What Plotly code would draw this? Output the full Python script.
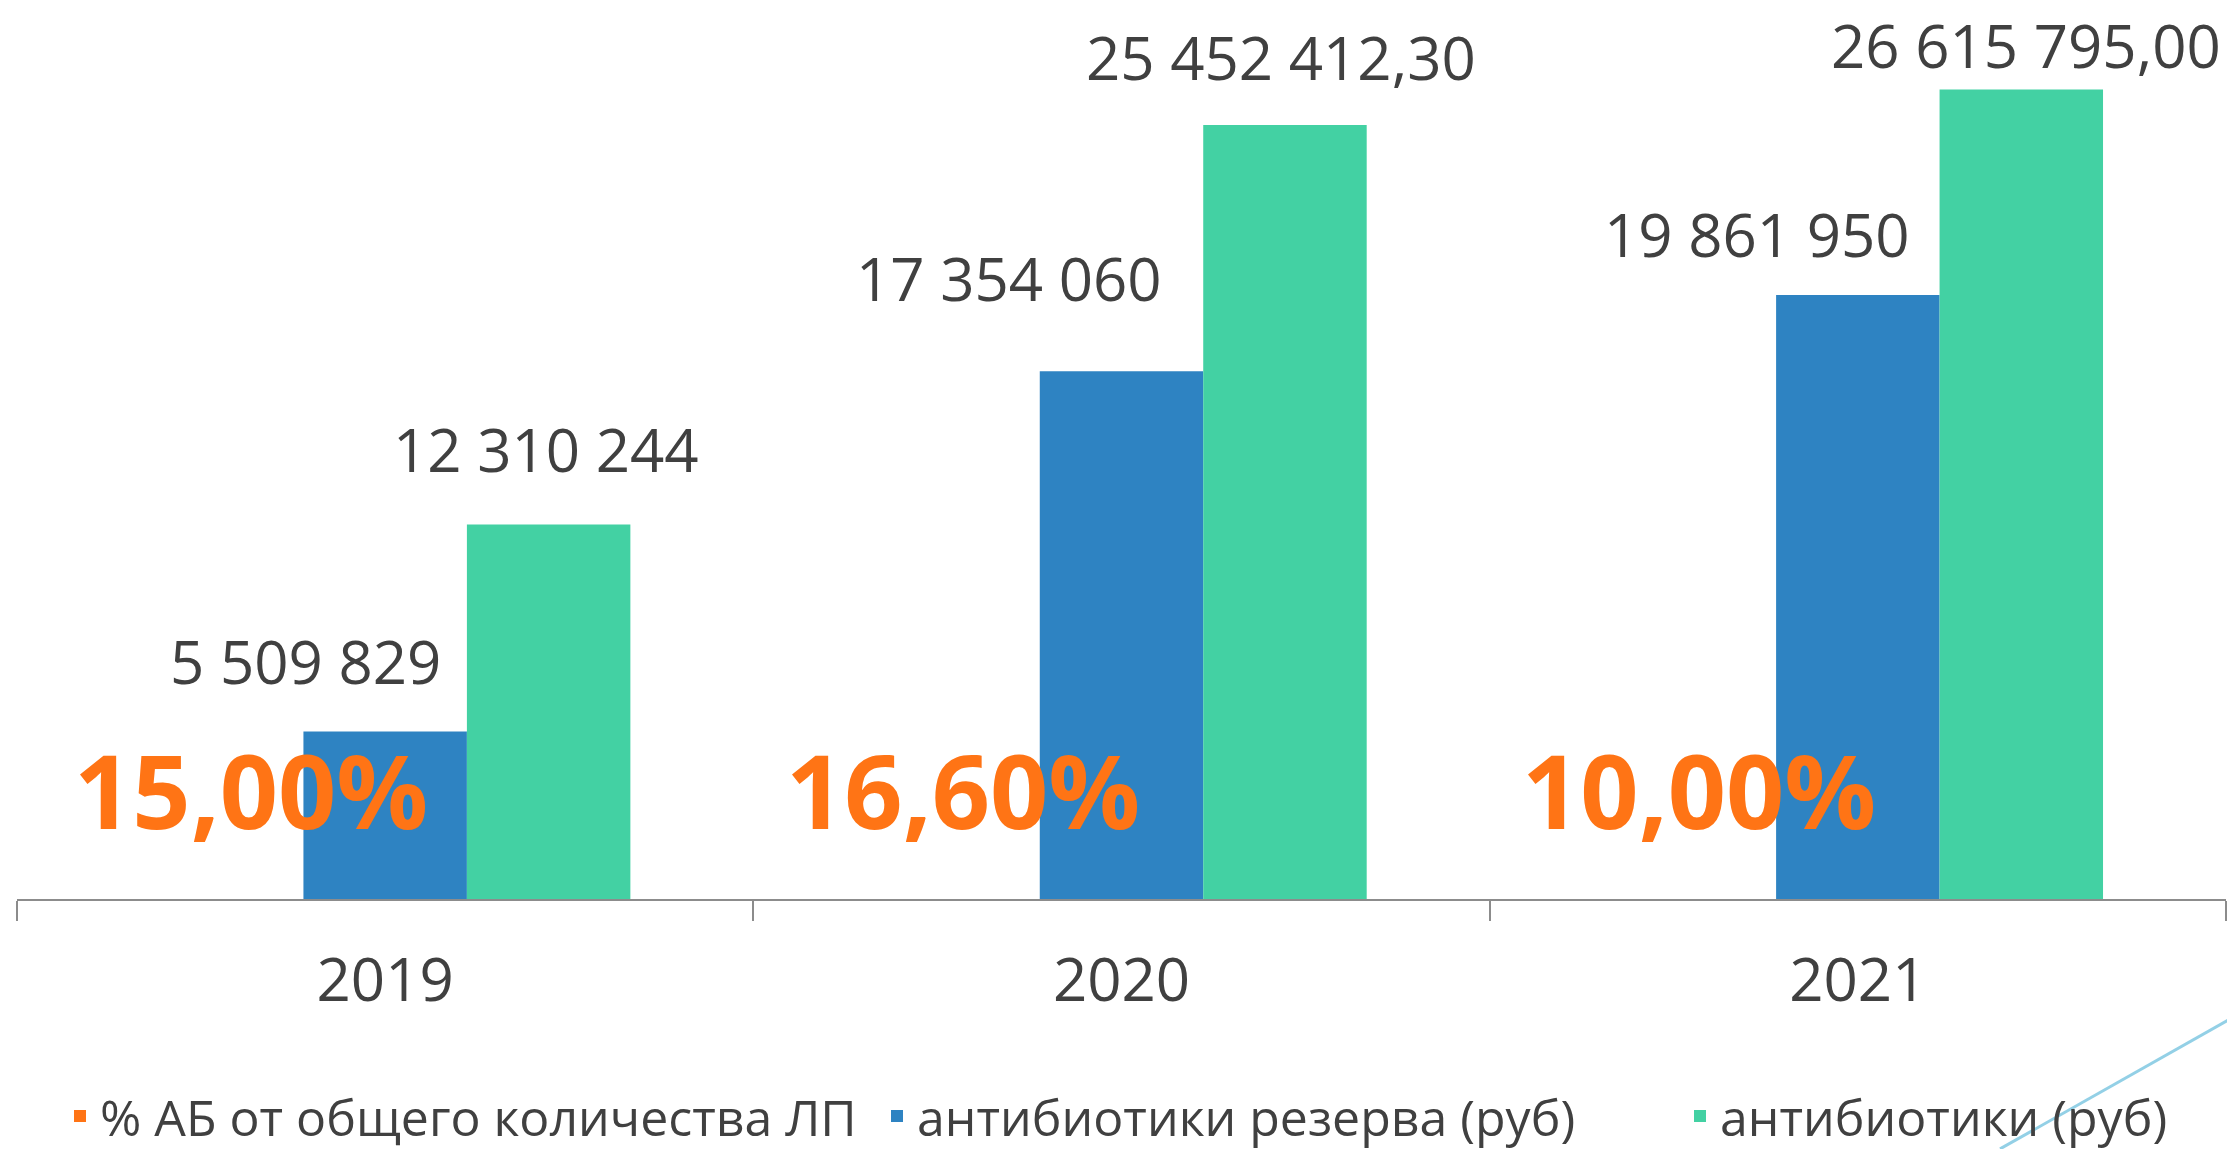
import plotly.graph_objects as go

# Data
years = ["2019", "2020", "2021"]
share_ab = [0.15, 0.166, 0.10]                       # % АБ от общего количества ЛП
reserve_rub = [5509829, 17354060, 19861950]           # антибиотики резерва (руб)
antibiotics_rub = [12310244, 25452412.30, 26615795.00]  # антибиотики (руб)
antibiotics_decimals = [0, 2, 2]

series_names = [
    "% АБ от общего количества ЛП",
    "антибиотики резерва (руб)",
    "антибиотики (руб)",
]

# Styling
ORANGE = "#FF7415"
BLUE = "#2E83C2"
GREEN = "#43D1A3"
TEXT = "#404040"
AXIS = "#8C8C8C"
FONT = "Open Sans"

W, H = 2227, 1149
ML, MR, MT, MB = 17, 1, 0, 250
PLOT_W = W - ML - MR
PLOT_H = H - MT - MB
Y_MAX = 29.56e6

# label offsets in pixels (dx, dy) relative to each bar's top
reserve_label_shift = [(-80, 27), (-113, 50), (-101, 18)]
antib_label_shift = [(161, 33), (159, 25), (168, 2)]
share_label_shift = [(-134, 110), (-159, 110), (-159, 110)]

# left edge (px) of each legend entry
legend_left_px = [60, 877, 1680]
legend_center_px = 1116


def fmt_rub(v, dec=0):
    s = f"{v:,.{dec}f}"
    return s.replace(",", " ").replace(".", ",")


def fmt_pct(v):
    return f"{v * 100:.2f}".replace(".", ",") + "%"


legend_ids = ["legend", "legend2", "legend3"]

fig = go.Figure()
fig.add_trace(go.Bar(name=series_names[0], x=years, y=share_ab, legend=legend_ids[0],
                     marker=dict(color=ORANGE, line=dict(width=0))))
fig.add_trace(go.Bar(name=series_names[1], x=years, y=reserve_rub, legend=legend_ids[1],
                     marker=dict(color=BLUE, line=dict(width=0))))
fig.add_trace(go.Bar(name=series_names[2], x=years, y=antibiotics_rub, legend=legend_ids[2],
                     marker=dict(color=GREEN, line=dict(width=0))))

annotations = []
for i, yr in enumerate(years):
    # category index i is the position of year yr on the x axis
    dx, dy = reserve_label_shift[i]
    annotations.append(dict(
        x=i, y=reserve_rub[i], xref="x", yref="y",
        text=fmt_rub(reserve_rub[i]), showarrow=False,
        xshift=dx, yshift=dy, yanchor="bottom", xanchor="center",
        font=dict(family=FONT, size=60, color=TEXT)))
    dx, dy = antib_label_shift[i]
    annotations.append(dict(
        x=i, y=antibiotics_rub[i], xref="x", yref="y",
        text=fmt_rub(antibiotics_rub[i], antibiotics_decimals[i]), showarrow=False,
        xshift=dx, yshift=dy, yanchor="bottom", xanchor="center",
        font=dict(family=FONT, size=60, color=TEXT)))
    dx, dy = share_label_shift[i]
    annotations.append(dict(
        x=i, y=share_ab[i], xref="x", yref="y",
        text=f"<b>{fmt_pct(share_ab[i])}</b>", showarrow=False,
        xshift=dx, yshift=dy, yanchor="middle", xanchor="center",
        font=dict(family=FONT, size=102, color=ORANGE)))

legend_layout = {}
for lid, left in zip(legend_ids, legend_left_px):
    legend_layout[lid] = dict(
        orientation="h", x=(left - ML) / PLOT_W, xanchor="left",
        y=(PLOT_H - legend_center_px) / PLOT_H, yanchor="middle",
        font=dict(family=FONT, size=50, color=TEXT),
        itemwidth=30, bgcolor="rgba(0,0,0,0)")

fig.update_layout(
    width=W, height=H,
    margin=dict(l=ML, r=MR, t=MT, b=MB, autoexpand=False),
    paper_bgcolor="white", plot_bgcolor="white",
    barmode="group", bargap=0.334, bargroupgap=0,
    font=dict(family=FONT, color=TEXT),
    annotations=annotations,
    showlegend=True,
    shapes=[dict(type="line", xref="paper", yref="paper",
                 x0=0.8977, y0=-0.278, x1=1.001, y1=-0.1346,
                 line=dict(color="#93D0E6", width=3), layer="below")],
    **legend_layout,
)

fig.update_xaxes(
    type="category", range=[-0.5, len(years) - 0.5],
    tickson="boundaries", ticks="outside", ticklen=20,
    tickwidth=2, tickcolor=AXIS, showline=True, linecolor=AXIS, linewidth=2,
    showgrid=False, zeroline=False, tickangle=0,
    tickfont=dict(family=FONT, size=60, color=TEXT), ticklabelstandoff=28,
)
fig.update_yaxes(range=[0, Y_MAX], visible=False, showgrid=False, zeroline=False)

fig.write_html("out.html")
